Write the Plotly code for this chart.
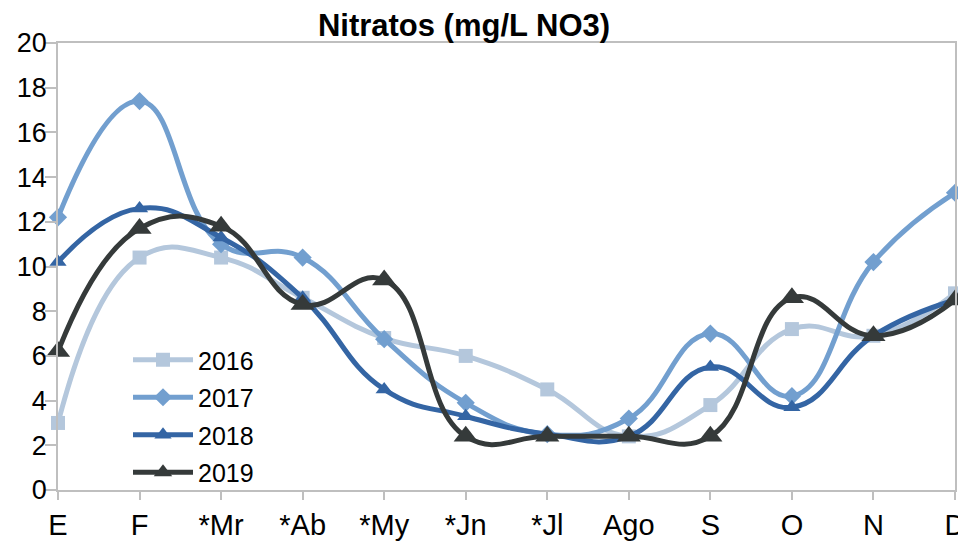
import plotly.graph_objects as go

months = ["E", "F", "*Mr", "*Ab", "*My", "*Jn", "*Jl", "Ago", "S", "O", "N", "D"]
v2016 = [3.0, 10.4, 10.4, 8.6, 6.8, 6.0, 4.5, 2.4, 3.8, 7.2, 6.9, 8.8]
v2017 = [12.2, 17.4, 11.0, 10.4, 6.75, 3.9, 2.5, 3.2, 7.0, 4.2, 10.2, 13.3]
v2018 = [10.2, 12.6, 11.3, 8.6, 4.5, 3.3, 2.5, 2.4, 5.5, 3.7, 6.9, 8.5]
v2019 = [6.2, 11.7, 11.8, 8.3, 9.4, 2.4, 2.4, 2.4, 2.4, 8.6, 6.9, 8.5]
y_ticks = [0, 2, 4, 6, 8, 10, 12, 14, 16, 18, 20]

series = [
    ("2016", v2016, "#b4c7dc", "square", 14),
    ("2017", v2017, "#729fcf", "diamond", 14),
    ("2018", v2018, "#3465a4", "triangle-up", 15),
    ("2019", v2019, "#353a3a", "triangle-up", 21),
]

# page has an 8px body margin; figure coordinates are page coordinates - 8
OFF = 8
W, H = 966 - OFF, 542 - OFF
L, R, T, B = 58 - OFF, 955 - OFF, 43 - OFF, 490 - OFF

fig = go.Figure()
for name, vals, col, sym, sz in series:
    fig.add_trace(go.Scatter(
        x=list(range(len(months))), y=vals, name=name, mode="lines+markers",
        line=dict(color=col, width=5, shape="spline", smoothing=1.3),
        marker=dict(symbol=sym, size=sz, color=col),
        cliponaxis=False, legendgroup=name,
    ))

fig.update_layout(
    width=W, height=H,
    margin=dict(l=L, r=W - R, t=T, b=H - B, autoexpand=False),
    paper_bgcolor="white", plot_bgcolor="white",
    font=dict(family="Liberation Sans, Arial, sans-serif", color="black"),
    title=dict(text="<b>Nitratos (mg/L NO3)</b>", x=(464 - OFF) / W, xanchor="center",
               y=1 - (25 - OFF) / H, yanchor="middle", yref="container",
               font=dict(size=31, color="black")),
    showlegend=True,
    legend=dict(x=(128 - 58) / 897, xref="paper", y=(490 - 337) / 447, yref="paper",
                xanchor="left", yanchor="top", bgcolor="rgba(0,0,0,0)",
                font=dict(size=25), itemwidth=60, tracegroupgap=2,
                traceorder="grouped"),
)
fig.update_xaxes(
    range=[0, 11], tickmode="array", tickvals=list(range(len(months))),
    ticktext=months, showgrid=False, zeroline=False, automargin=False,
    showline=True, linecolor="#bfbfbf", linewidth=1.5, mirror=True,
    ticks="outside", ticklen=8, tickcolor="#bfbfbf", tickwidth=1.5,
    tickfont=dict(size=29), ticklabelstandoff=0,
)
fig.update_yaxes(
    range=[0, 20], tickmode="array", tickvals=y_ticks,
    showgrid=False, zeroline=False, automargin=False,
    showline=True, linecolor="#bfbfbf", linewidth=1.5, mirror=True,
    ticks="outside", ticklen=11, tickcolor="#bfbfbf", tickwidth=1.5,
    tickfont=dict(size=27), ticklabelstandoff=-7,
)

fig.write_html("out.html")
